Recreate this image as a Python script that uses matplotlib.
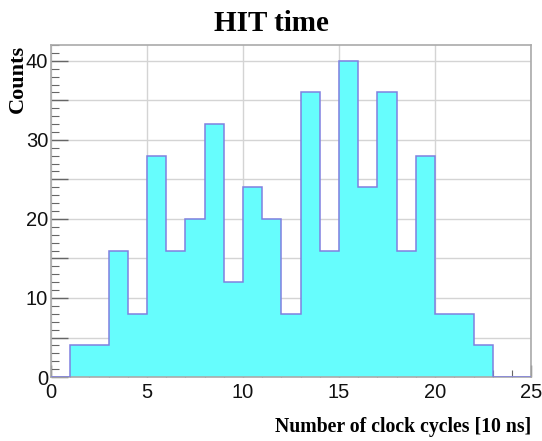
import matplotlib
matplotlib.use("Agg")
import matplotlib.pyplot as plt
from matplotlib.ticker import MultipleLocator, FuncFormatter
import numpy as np

# Data: histogram of HIT time (bin edges 0..25, width 1)
bin_edges = list(range(0, 26))
counts = [0, 4, 4, 16, 8, 28, 16, 20, 32, 12, 24, 20, 8, 36, 16, 40, 24, 36, 16, 28, 8, 8, 4, 0, 0]

title = "HIT time"
xlabel = "Number of clock cycles [10 ns]"
ylabel = "Counts"

fig = plt.figure(figsize=(5.42, 4.41), dpi=100)
ax = fig.add_axes([0.094, 0.145, 0.886, 0.753])

ax.stairs(counts, bin_edges, fill=True, color="#66fdfd", zorder=2)
ax.stairs(counts, bin_edges, fill=False, color="#8080e0", linewidth=1.1, zorder=3)

ax.set_xlim(0, 25)
ax.set_ylim(0, 42)

ax.xaxis.set_major_locator(MultipleLocator(5))
ax.xaxis.set_minor_locator(MultipleLocator(1))
ax.yaxis.set_major_locator(MultipleLocator(5))
ax.yaxis.set_minor_locator(MultipleLocator(1))
ax.yaxis.set_major_formatter(FuncFormatter(lambda v, p: f"{int(v)}" if int(round(v)) % 10 == 0 else ""))

ax.grid(True, which="major", color="#d4d4d4", linewidth=1.0, zorder=0)
ax.set_axisbelow(True)

for s in ax.spines.values():
    s.set_color("#aaaaaa")
    s.set_linewidth(1.2)

ax.tick_params(axis="both", which="both", direction="in", color="#666666", labelsize=14.5,
               labelfontfamily="Liberation Sans", labelcolor="#111111")
ax.tick_params(axis="y", which="major", length=12, width=1.0, pad=2)
ax.tick_params(axis="y", which="minor", length=6, width=0.8)
ax.tick_params(axis="x", which="major", length=9, width=1.0, pad=4)
ax.tick_params(axis="x", which="minor", length=5, width=0.8)

fig.suptitle(title, x=0.5, y=0.978, fontsize=21, fontweight="bold", family="Liberation Serif")
ax.set_xlabel(xlabel, fontsize=14.2, fontweight="bold", family="Liberation Serif", loc="right", labelpad=11)
ax.set_ylabel(ylabel, fontsize=16, fontweight="bold", family="Liberation Serif", loc="top", labelpad=3)
ax.yaxis.set_label_coords(-0.048, 1.0)

fig.savefig("out.png", dpi=100)
